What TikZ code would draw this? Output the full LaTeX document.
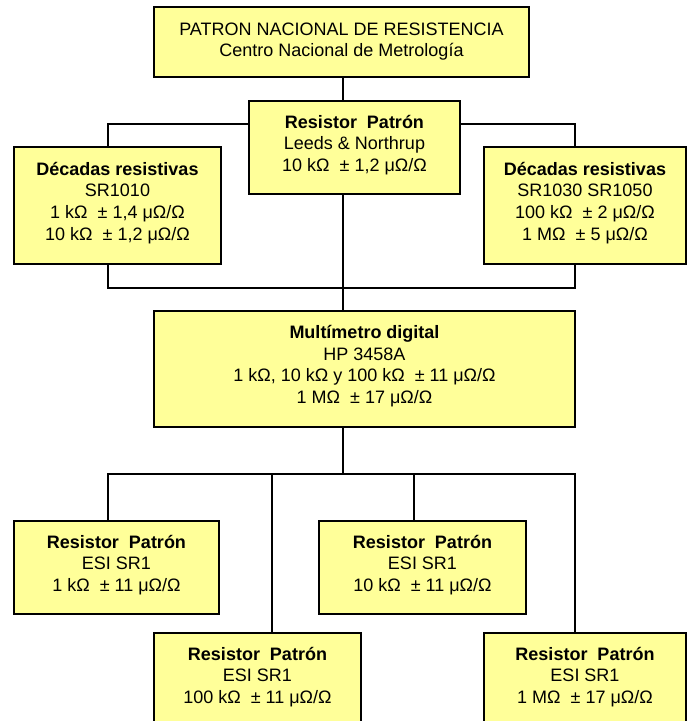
\documentclass[tikz,border=0pt]{standalone}
\usepackage{fontspec}
\setmainfont{Liberation Sans}
\usetikzlibrary{backgrounds}
\definecolor{boxfill}{RGB}{255,255,153}
\tikzset{
  box/.style={draw=black, line width=1.5pt, fill=boxfill, align=center, inner sep=0pt,
    text depth=9pt, font=\fontsize{18}{21.6}\selectfont},
  conn/.style={draw=black, line width=1.3pt}
}
\begin{document}
\begin{tikzpicture}[x=1pt,y=-1pt]
\useasboundingbox (0,0) rectangle (692,721);
\clip (0,0) rectangle (692,721);
\node[box, text depth=4.5pt, minimum width=375pt, minimum height=70pt] (top) at (341.5,42)
  {PATRON NACIONAL DE RESISTENCIA\\Centro Nacional de Metrología};
\node[box, minimum width=211pt, minimum height=93pt] (leeds) at (354.5,147.5)
  {\textbf{Resistor\ \ Patrón}\\Leeds \& Northrup\\10 kΩ\ \ ± 1,2 μΩ/Ω};
\node[box, minimum width=207pt, minimum height=117pt] (decl) at (117.5,205.5)
  {\textbf{Décadas resistivas}\\SR1010\\1 kΩ\ \ ± 1,4 μΩ/Ω\\10 kΩ\ \ ± 1,2 μΩ/Ω};
\node[box, minimum width=202pt, minimum height=117pt] (decr) at (585,205.5)
  {\textbf{Décadas resistivas}\\SR1030 SR1050\\100 kΩ\ \ ± 2 μΩ/Ω\\1 MΩ\ \ ± 5 μΩ/Ω};
\node[box, minimum width=421pt, minimum height=116pt] (multi) at (364.5,369)
  {\textbf{Multímetro digital}\\HP 3458A\\1 kΩ, 10 kΩ y 100 kΩ\ \ ± 11 μΩ/Ω\\1 MΩ\ \ ± 17 μΩ/Ω};
\node[box, minimum width=205pt, minimum height=93pt] (bl) at (116.5,567.5)
  {\textbf{Resistor\ \ Patrón}\\ESI SR1\\1 kΩ\ \ ± 11 μΩ/Ω};
\node[box, minimum width=207pt, minimum height=93pt] (bm) at (422.5,567.5)
  {\textbf{Resistor\ \ Patrón}\\ESI SR1\\10 kΩ\ \ ± 11 μΩ/Ω};
\node[box, minimum width=207pt, minimum height=93pt] (rl) at (257.5,679.5)
  {\textbf{Resistor\ \ Patrón}\\ESI SR1\\100 kΩ\ \ ± 11 μΩ/Ω};
\node[box, minimum width=202pt, minimum height=93pt] (rr) at (585,679.5)
  {\textbf{Resistor\ \ Patrón}\\ESI SR1\\1 MΩ\ \ ± 17 μΩ/Ω};
% junctions
\coordinate (aL) at (108,124);
\coordinate (aR) at (575,124);
\coordinate (bL) at (108,288);
\coordinate (bR) at (575,288);
\coordinate (bC) at (343,288);
\coordinate (cC) at (343,474);
\coordinate (cL) at (108,474);
\coordinate (cR) at (575,474);
\coordinate (c2) at (272,474);
\coordinate (c3) at (414,474);
\begin{scope}[on background layer]
\draw[conn] (top.south -| bC) -- (leeds.north -| bC);
\draw[conn] (decl.north -| aL) -- (aL) -- (aR) -- (decr.north -| aR);
\draw[conn] (decl.south -| bL) -- (bL) -- (bR) -- (decr.south -| bR);
\draw[conn] (leeds.south -| bC) -- (multi.north -| bC);
\draw[conn] (multi.south -| cC) -- (cC);
\draw[conn] (bl.north -| cL) -- (cL) -- (cR) -- (rr.north -| cR);
\draw[conn] (c2) -- (rl.north -| c2);
\draw[conn] (c3) -- (bm.north -| c3);
\end{scope}
\end{tikzpicture}
\end{document}
